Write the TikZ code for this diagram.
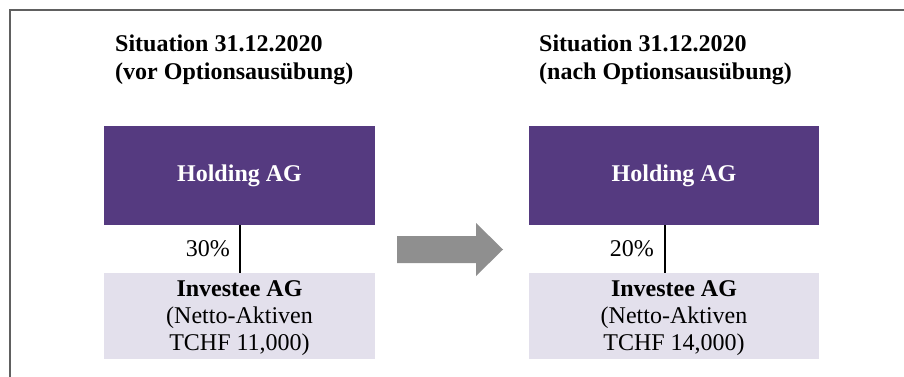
\documentclass[tikz,border=0pt]{standalone}
\usepackage{fontspec}
\setmainfont{Liberation Serif}
\definecolor{holdpurple}{HTML}{553A80}
\definecolor{invlav}{HTML}{E3E0EC}
\definecolor{arrgray}{HTML}{8F8F8F}
\definecolor{framegray}{HTML}{606060}
\begin{document}
\begin{tikzpicture}[x=1pt,y=-1pt,
  holdbox/.style={fill=holdpurple,draw=none,inner sep=0pt,text=white,font=\fontsize{24}{28}\selectfont\bfseries},
  invbox/.style={fill=invlav,draw=none,inner sep=0pt},
  invtext/.style={align=center,inner sep=0pt,font=\fontsize{24}{27}\selectfont},
  titletext/.style={anchor=north west,align=left,inner sep=0pt,font=\fontsize{24}{28}\selectfont\bfseries},
  pctlabel/.style={anchor=east,inner sep=0pt,font=\fontsize{24}{28}\selectfont},
  conn/.style={draw=black,line width=2pt}]
\useasboundingbox (0,0) rectangle (904,377);
\draw[framegray,line width=1.5pt] (10,377) -- (10,10) -- (904,10);
% left panel
\node[titletext] (t1) at (115,35) {Situation 31.12.2020\\(vor Optionsausübung)};
\node[holdbox,minimum width=271pt,minimum height=99pt] (h1) at (239.5,175.5) {Holding AG};
\node[invbox,minimum width=271pt,minimum height=86pt] (i1) at (239.5,316) {};
\node[invtext] (i1txt) at (239.5,318.5) {\textbf{Investee AG}\\(Netto-Aktiven\\TCHF 11,000)};
\draw[conn] (h1.south) -- (i1.north);
\node[pctlabel] (p1) at (230,249) {30\%};
% arrow
\fill[arrgray] (397,236) -- (476,236) -- (476,223) -- (503,249.5) -- (476,276) -- (476,263) -- (397,263) -- cycle;
% right panel
\node[titletext] (t2) at (539,35) {Situation 31.12.2020\\(nach Optionsausübung)};
\node[holdbox,minimum width=290pt,minimum height=99pt] (h2) at (674,175.5) {Holding AG};
\node[invbox,minimum width=290pt,minimum height=86pt] (i2) at (674,316) {};
\node[invtext] (i2txt) at (674,318.5) {\textbf{Investee AG}\\(Netto-Aktiven\\TCHF 14,000)};
\coordinate (h2b) at (665,225);
\coordinate (i2top) at (665,273);
\draw[conn] (h2b) -- (i2top);
\node[pctlabel] (p2) at (654,249) {20\%};
\end{tikzpicture}
\end{document}
